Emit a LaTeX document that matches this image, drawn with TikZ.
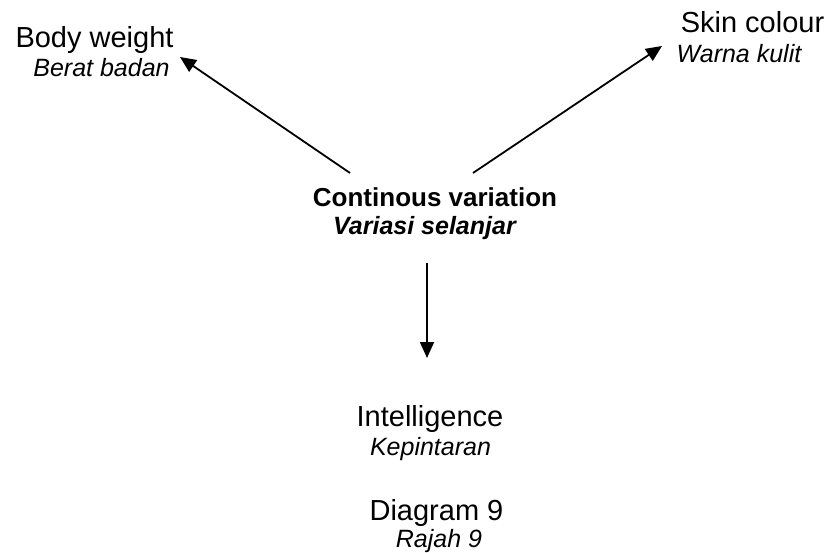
\documentclass[tikz,border=0pt]{standalone}
\usepackage{fontspec}
\setmainfont{Liberation Sans}
\usetikzlibrary{arrows.meta, positioning}

\begin{document}
\begin{tikzpicture}[
    x=1pt, y=-1pt,
    eng/.style={inner sep=0pt, anchor=base, font=\fontsize{29}{34}\selectfont},
    mly/.style={inner sep=0pt, anchor=base, font=\fontsize{25}{30}\selectfont\itshape},
    arr/.style={line width=1.8pt, -{Triangle[length=16pt, width=14pt]}},
]
\useasboundingbox (0,0) rectangle (830,553);
% centre
\node[eng, font=\fontsize{26}{31}\selectfont\bfseries] (cv) at (435,207) {Continous variation};
\node[mly, font=\fontsize{25}{30}\selectfont\bfseries\itshape] (cvm) at (424.5,235) {Variasi selanjar};
% three examples
\node[eng] (bw) at (94.5,48) {Body weight};
\node[mly] (bwm) at (101.5,77) {Berat badan};
\node[eng] (sc) at (752.5,33) {Skin colour};
\node[mly] (scm) at (739,63) {Warna kulit};
\node[eng] (intel) at (430,426) {Intelligence};
\node[mly] (intelm) at (430.5,455) {Kepintaran};
% caption
\node[eng] (diag) at (436.5,520) {Diagram 9};
\node[mly] (diagm) at (439,547) {Rajah 9};
% arrow ends
\coordinate (cv-l) at (350,173);
\coordinate (cv-r) at (473,173);
\coordinate (cv-d) at (427,263);
\coordinate (bw-in) at (180,57);
\coordinate (sc-in) at (662,46);
\coordinate (intel-in) at (427,358);
\draw[arr] (cv-l) -- (bw-in);
\draw[arr] (cv-r) -- (sc-in);
\draw[arr] (cv-d) -- (intel-in);
\end{tikzpicture}
\end{document}
